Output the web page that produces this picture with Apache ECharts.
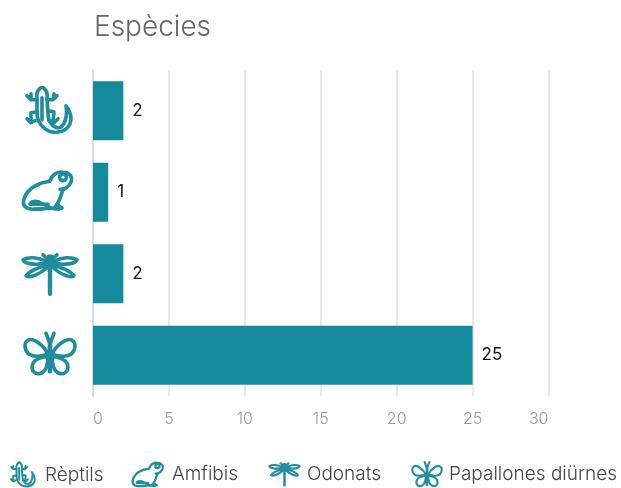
<!DOCTYPE html>
<html><head><meta charset="utf-8">
<style>html,body{margin:0;padding:0;background:#fff}#c{width:621px;height:488px}</style>
<script src="https://cdn.jsdelivr.net/npm/echarts@6/dist/echarts.min.js"></script></head>
<body><div id="c"></div>
<script>
const categories = ['Rèptils', 'Amfibis', 'Odonats', 'Papallones diürnes'];
const values = [2, 1, 2, 25];
const titleText = 'Espècies';
const FONT = 'Inter, "Open Sans", sans-serif';
const TEAL = '#148a9c';

const iconShapes = [
  // lizard
  '<path d="M22 1C25 3 28 7 27 12L28 28C28 36 33 42 38 42C44 42 48 32 46 20C50 25 52 32 50 38C45 49 30 48 24 42C19 38 17 33 17 27L17 12C16 7 19 3 22 1Z"/><path d="M17 14L11 14L11 8M7 10L11 14M27 14L33 14L34 8M37 10L33 14"/><path d="M17 26L11 27L11 36M7 33L11 37L15 35M28 25L34 26L33 36M38 33L34 37L29 35"/><path d="M22 12V34"/>',
  // frog
  '<path d="M4 32C2 38 5 41 12 42L31 41C28 38 22 37 19 35M4 32C7 20 21 15 30 14C32 7 38 4 43 5C50 5 53 10 51 15C49 19 46 21 43 22C41 29 39 34 37 37L42 41"/><path d="M19 35C14 33 10 35 10 37M14 42L22 42M31 41L39 42M37 37L34 41M40 22L44 22M12 37L28 37"/><circle cx="43" cy="10" r="3.4"/>',
  // dragonfly
  '<path d="M30 10V45" stroke-width="4.4" stroke-linecap="round"/><circle cx="30" cy="11" r="3.6"/><path d="M26 9L23 6M34 9L37 6"/><path d="M27 13C18 8 8 8 3 11C4 15 16 17 27 14Z"/><path d="M33 13C42 8 52 8 57 11C56 15 44 17 33 14Z"/><path d="M27 17C18 18 9 23 6 27C10 30 20 25 27 19Z"/><path d="M33 17C42 18 51 23 54 27C50 30 40 25 33 19Z"/>',
  // butterfly
  '<path d="M30 10V41" stroke-width="4.6"/><path d="M26 3L29 11M34 3L31 11"/><path d="M28 24C24 15 13 7 8 10C3 13 5 21 9 24C14 27 22 26 28 24Z"/><path d="M32 24C36 15 47 7 52 10C57 13 55 21 51 24C46 27 38 26 32 24Z"/><path d="M28 26C21 27 15 29 13 33C10 40 15 45 21 43C26 41 28 36 28 26Z"/><path d="M32 26C39 27 45 29 47 33C50 40 45 45 39 43C34 41 32 36 32 26Z"/>'
];
const tightBoxes = ['6 -1 48 52', '1 2 54 43', '1 2 58 46', '3 1 54 44'];

function svg(i, vb, w, h) {
  const s = '<svg xmlns="http://www.w3.org/2000/svg" width="' + w + '" height="' + h + '" viewBox="' + vb + '"><g fill="none" stroke="#1f8d9e" stroke-width="3.6" stroke-linejoin="round" stroke-linecap="round">' + iconShapes[i] + '</g></svg>';
  return 'data:image/svg+xml;charset=utf-8,' + encodeURIComponent(s);
}

const rich = {};
categories.forEach(function (c, i) {
  rich['i' + i] = {
    width: 60, height: 50,
    backgroundColor: { image: svg(i, '0 0 60 50', 120, 100) }
  };
});

const legendLefts = [10, 131, 267, 411];
const legendWidths = [27, 34, 35, 32];
const legendHeights = [28, 27, 26, 26];
const legendGaps = [3, 2, 0, 1];

const chart = echarts.init(document.getElementById('c'));
chart.setOption({
  animation: false,
  title: {
    text: titleText, left: 89, top: 9,
    textStyle: { fontFamily: FONT, fontSize: 28, fontWeight: 300, color: '#666' }
  },
  legend: categories.map(function (c, i) {
    return {
      left: legendLefts[i], top: 461, padding: 0,
      itemWidth: legendWidths[i], itemHeight: legendHeights[i],
      textStyle: { fontFamily: FONT, fontSize: 19, fontWeight: 300, color: '#444', padding: [3, 0, 0, legendGaps[i]] },
      data: [{ name: c, icon: 'image://' + svg(i, tightBoxes[i], legendWidths[i] * 3, legendHeights[i] * 3) }]
    };
  }),
  grid: { left: 93, top: 70, width: 455.5, height: 326, containLabel: false },
  xAxis: {
    type: 'value', min: 0, max: 30, interval: 5,
    axisLine: { show: false }, axisTick: { show: false },
    splitLine: { show: true, lineStyle: { color: '#e6e8ec', width: 2 } },
    axisLabel: {
      margin: 15, color: '#999', fontFamily: FONT, fontWeight: 300, fontSize: 16,
      alignMinLabel: 'left', alignMaxLabel: 'right'
    }
  },
  yAxis: {
    type: 'category', inverse: true, data: categories,
    axisLine: { show: true, lineStyle: { color: '#d6dbe8', width: 2 } },
    axisTick: { show: false },
    axisLabel: {
      margin: 13,
      formatter: function (v) { return '{i' + categories.indexOf(v) + '|}'; },
      rich: rich
    }
  },
  series: categories.map(function (c, i) {
    return {
      name: c, type: 'bar', stack: 'all', barWidth: 59,
      itemStyle: { color: TEAL },
      label: {
        show: true, position: 'right', distance: 9,
        fontFamily: FONT, fontSize: 17, color: '#111', padding: [5, 0, 0, 0],
        formatter: function (p) { return p.value; }
      },
      data: categories.map(function (_, j) { return j === i ? values[j] : null; })
    };
  })
});
</script></body></html>
